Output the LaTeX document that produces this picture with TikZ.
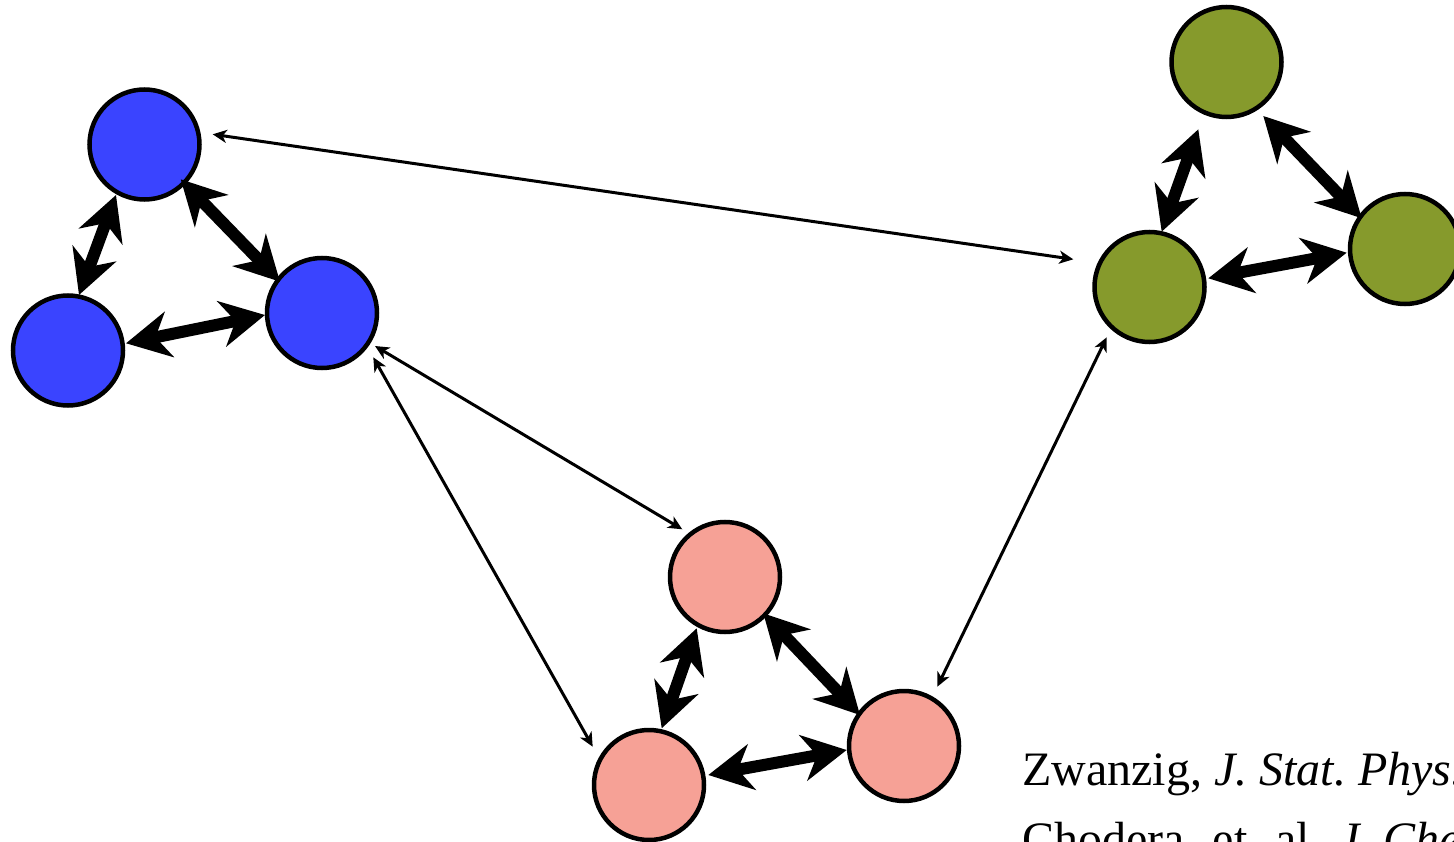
\documentclass[tikz,border=0pt]{standalone}
\usepackage{fontspec}
\setmainfont{Liberation Serif}
\usetikzlibrary{arrows.meta}
\definecolor{bluec}{HTML}{3A44FF}
\definecolor{greenc}{HTML}{869A2C}
\definecolor{pinkc}{HTML}{F6A196}
\tikzset{
  st/.style={circle, draw=black, line width=4.5pt, minimum size=110pt, inner sep=0pt},
  fast/.style={line width=12pt, {Stealth[length=44pt,width=46pt,inset=14pt]}-{Stealth[length=44pt,width=46pt,inset=14pt]}},
  slow/.style={line width=3pt, {Stealth[length=14pt,width=13pt,inset=4pt]}-{Stealth[length=14pt,width=13pt,inset=4pt]}},
  ref/.style={anchor=base west, inner sep=0pt, font=\fontsize{48}{58}\selectfont}
}
\newcommand{\at}[2]{([shift={(#2)}]#1.center)}
\begin{document}
\begin{tikzpicture}[x=1pt,y=-1pt]
\useasboundingbox (0,0) rectangle (1454,842);
% blue
\node[st, fill=bluec] (A) at (144.5,144.5) {};
\node[st, fill=bluec] (B) at (68,350.5) {};
\node[st, fill=bluec] (C) at (322,313) {};
% green
\node[st, fill=greenc] (D) at (1226.5,62) {};
\node[st, fill=greenc] (E) at (1149.5,287) {};
\node[st, fill=greenc] (F) at (1405,249) {};
% pink
\node[st, fill=pinkc] (G) at (725,577) {};
\node[st, fill=pinkc] (H) at (649,785) {};
\node[st, fill=pinkc] (I) at (904,746) {};
% fast transitions
\draw[fast] \at{A}{-28.5,50.5} -- \at{B}{11,-55.5};
\draw[fast] \at{A}{36.2,34.8} -- \at{C}{-42,-31.3};
\draw[fast] \at{B}{58,-7.2} -- \at{C}{-57,2};
\draw[fast] \at{D}{-28.2,67.3} -- \at{E}{12.2,-55.3};
\draw[fast] \at{D}{36.8,54} -- \at{F}{-43.3,-30.7};
\draw[fast] \at{E}{58.8,-8.7} -- \at{F}{-58.3,3.7};
\draw[fast] \at{G}{-28.3,51.3} -- \at{H}{12.7,-56.7};
\draw[fast] \at{G}{38.3,36.3} -- \at{I}{-44,-31};
\draw[fast] \at{H}{59.3,-10} -- \at{I}{-57.3,4};
% slow transitions
\draw[slow] \at{A}{68.2,-10.2} -- \at{E}{-76.2,-27.7};
\draw[slow] \at{C}{53,33} -- \at{G}{-42.7,-47.7};
\draw[slow] \at{C}{51.3,44.3} -- \at{H}{-56.3,-38.3};
\draw[slow] \at{E}{-42.8,50.3} -- \at{I}{33.3,-59.3};
% references
\node[ref] (t1) at (1022,785) {Zwanzig, \textit{J.\ Stat.\ Phys.}};
\node[ref] (t2) at (1022,855) {Chodera,\hspace{16pt}et.\hspace{16pt}al.\hspace{16pt}\textit{J.\ Chem.\ Phys.}};
\end{tikzpicture}
\end{document}
